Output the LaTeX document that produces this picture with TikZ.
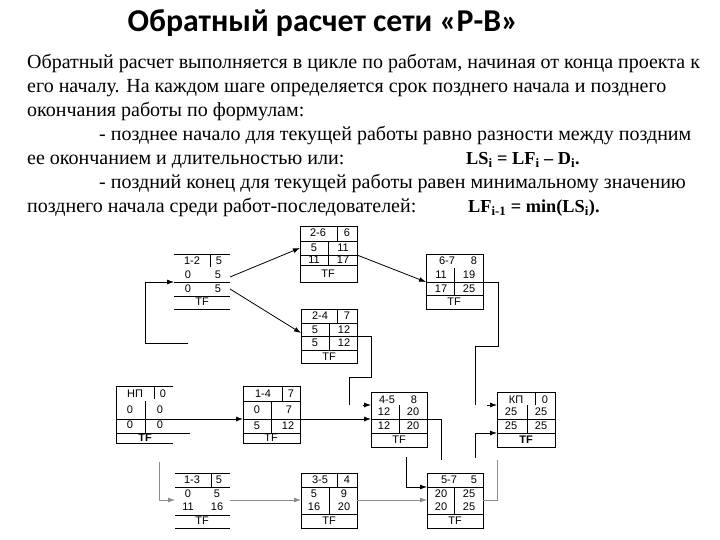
\documentclass[tikz,border=0pt]{standalone}
\usepackage{fontspec}
\setmainfont{Liberation Serif}
\newfontfamily\titlefont{Carlito}
\newfontfamily\cellfont{Liberation Sans}
\usetikzlibrary{arrows.meta,calc}
\begin{document}
\begin{tikzpicture}[x=1pt,y=-1pt,
  tbox/.style={draw, line width=0.8pt, inner sep=0pt, outer sep=0pt, anchor=north west},
  obox/.style={draw=none, inner sep=0pt, outer sep=0pt, anchor=north west},
  ct/.style={font=\cellfont\fontsize{11}{11}\selectfont, inner sep=0pt},
  ln/.style={line width=0.8pt},
  conn/.style={line width=0.8pt},
  arr/.style={-{Latex[length=7pt,width=5pt]}},
  lg/.style={draw=black!45},
  body/.style={font=\fontsize{20}{20}\selectfont, anchor=base west, inner sep=0pt},
  form/.style={font=\fontsize{18.3}{18.3}\selectfont\bfseries, anchor=base west, inner sep=0pt}
]
\useasboundingbox[fill=white] (0,0) rectangle (720,540);

% ---------- title and text ----------
\node[font=\titlefont\bfseries\fontsize{31.8}{31.8}\selectfont, anchor=base, inner sep=0pt] (title) at (323,32) {Обратный расчет сети «Р-В»};
\node[body] (t1) at (27,69) {Обратный расчет выполняется в цикле по работам, начиная от конца проекта к};
\node[body] (t2) at (27,93) {его началу. На каждом шаге определяется срок позднего начала и позднего};
\node[body] (t3) at (27,117) {окончания работы по формулам:};
\node[body] (t4) at (99,141) {- позднее начало для текущей работы равно разности между поздним};
\node[body] (t5) at (27,165) {ее окончанием и длительностью или:};
\node[form] (f1) at (466,165) {LS\textsubscript{i} = LF\textsubscript{i} – D\textsubscript{i}.};
\node[body] (t6) at (99,189) {- поздний конец для текущей работы равен минимальному значению};
\node[body] (t7) at (27,213) {позднего начала среди работ-последователей:};
\node[form] (f2) at (468,213) {LF\textsubscript{i-1} = min(LS\textsubscript{i}).};

% ---------- 1-2 ----------
\node[obox, minimum width=56pt, minimum height=55pt] (n12) at (174,254) {};
\draw[ln] (174,254)--(230,254) (174,282)--(230,282) (174,296)--(230,296) (174,309)--(230,309) (210,254)--(210,267);
\node[ct] at (192,261) {1-2}; \node[ct] at (219,261) {5};
\node[ct] at (188,275) {0};   \node[ct] at (218,275) {5};
\node[ct] at (188,289) {0};   \node[ct] at (218,289) {5};
\node[ct] at (202,302) {TF};

% ---------- 1-3 ----------
\node[obox, minimum width=55pt, minimum height=55pt] (n13) at (175,473) {};
\draw[ln] (175,473)--(230,473) (175,487)--(230,487) (175,515)--(230,515) (175,528)--(230,528) (211,473)--(211,487);
\node[ct] at (192,480) {1-3}; \node[ct] at (219,480) {5};
\node[ct] at (188,494) {0};   \node[ct] at (217,494) {5};
\node[ct] at (188,507) {11};  \node[ct] at (217,507) {16};
\node[ct] at (202,521) {TF};

% ---------- НП ----------
\node[obox, minimum width=57pt, minimum height=57pt] (nNP) at (116,386) {};
\draw[ln] (173,386)--(116,386)--(116,443)--(173,443) (116,419)--(173,419) (116,433)--(190,433)
  (154,386)--(154,399) (145,401)--(145,433);
\node[ct] at (135,394) {НП}; \node[ct] at (163,394) {0};
\node[ct] at (130,410) {0};  \node[ct] at (160,410) {0};
\node[ct] at (130,425) {0};  \node[ct] at (160,425) {0};
\node[ct, font=\cellfont\bfseries\fontsize{11}{11}\selectfont] at (145,438) {TF};

% ---------- 1-4 ----------
\node[tbox, minimum width=57pt, minimum height=57pt] (n14) at (243,386) {};
\draw[ln] (243,401)--(300,401) (243,419)--(300,419) (243,433)--(300,433) (282,386)--(282,401) (271,401)--(271,433);
\node[ct] at (263,394) {1-4}; \node[ct] at (291,394) {7};
\node[ct] at (257,410) {0};   \node[ct] at (289,410) {7};
\node[ct] at (257,426) {5};   \node[ct] at (288,426) {12};
\node[ct] at (271,438) {TF};

% ---------- 2-6 ----------
\node[tbox, minimum width=57pt, minimum height=56pt] (n26) at (300,226) {};
\draw[ln] (300,241)--(357,241) (300,255)--(357,255) (300,265)--(357,265) (337,226)--(337,241) (328,241)--(328,265);
\node[ct] at (318,233) {2-6}; \node[ct] at (347,233) {6};
\node[ct] at (314,248) {5};   \node[ct] at (343,248) {11};
\node[ct] at (314,260) {11};  \node[ct] at (343,260) {17};
\node[ct] at (328,274) {TF};

% ---------- 2-4 ----------
\node[tbox, minimum width=56pt, minimum height=54pt] (n24) at (301,309) {};
\draw[ln] (301,323)--(357,323) (301,336)--(357,336) (301,350)--(357,350) (337,309)--(337,323) (329,323)--(329,350);
\node[ct] at (320,316) {2-4}; \node[ct] at (347,316) {7};
\node[ct] at (315,330) {5};   \node[ct] at (344,330) {12};
\node[ct] at (315,343) {5};   \node[ct] at (344,343) {12};
\node[ct] at (329,357) {TF};

% ---------- 6-7 ----------
\node[tbox, minimum width=57pt, minimum height=55pt] (n67) at (426,254) {};
\draw[ln] (426,282)--(483,282) (426,295)--(483,295) (454,268)--(454,295);
\node[ct] at (447,261) {6-7}; \node[ct] at (474,261) {8};
\node[ct] at (441,275) {11};  \node[ct] at (469,275) {19};
\node[ct] at (441,289) {17};  \node[ct] at (469,289) {25};
\node[ct] at (454,302) {TF};

% ---------- 4-5 ----------
\node[tbox, minimum width=56pt, minimum height=55pt] (n45) at (371,392) {};
\draw[ln] (371,419)--(427,419) (371,433)--(427,433) (399,405)--(399,433);
\node[ct] at (387,400) {4-5}; \node[ct] at (414,400) {8};
\node[ct] at (384,412) {12};  \node[ct] at (413,412) {20};
\node[ct] at (384,426) {12};  \node[ct] at (413,426) {20};
\node[ct] at (399,440) {TF};

% ---------- КП ----------
\node[tbox, minimum width=58pt, minimum height=55pt] (nKP) at (497,392) {};
\draw[ln] (497,419)--(555,419) (497,433)--(555,433) (535,392)--(535,405) (527,405)--(527,433);
\node[ct] at (516,400) {КП}; \node[ct] at (545,400) {0};
\node[ct] at (511,412) {25}; \node[ct] at (541,412) {25};
\node[ct] at (511,426) {25}; \node[ct] at (541,426) {25};
\node[ct, font=\cellfont\bfseries\fontsize{11}{11}\selectfont] at (526,440) {TF};

% ---------- 3-5 ----------
\node[tbox, minimum width=56pt, minimum height=55pt] (n35) at (301,473) {};
\draw[ln] (301,487)--(357,487) (301,514)--(357,514) (337,473)--(337,487) (329,487)--(329,514);
\node[ct] at (320,480) {3-5}; \node[ct] at (347,480) {4};
\node[ct] at (314,494) {5};   \node[ct] at (344,494) {9};
\node[ct] at (314,507) {16};  \node[ct] at (344,507) {20};
\node[ct] at (329,521) {TF};

% ---------- 5-7 ----------
\node[tbox, minimum width=56pt, minimum height=55pt] (n57) at (427,473) {};
\draw[ln] (427,487)--(483,487) (427,514)--(483,514) (454,487)--(454,514);
\node[ct] at (449,480) {5-7}; \node[ct] at (474,480) {5};
\node[ct] at (441,494) {20};  \node[ct] at (469,494) {25};
\node[ct] at (441,507) {20};  \node[ct] at (469,507) {25};
\node[ct] at (455,521) {TF};

% ---------- free ends ----------
\coordinate (c12a) at (188,343);
\coordinate (c67e) at (475,405);
\coordinate (cKPs) at (487,405);
\coordinate (c24e) at (349,405);
\coordinate (c45s) at (363,405);
\coordinate (c45e) at (441,460);
\coordinate (c57s) at (406,457);
\coordinate (c57e) at (497,460);
\coordinate (cKPb) at (475,458);
\coordinate (c13s) at (159,462);

% ---------- connectors ----------
\draw[conn,arr] (c12a) -- (145,343) -- (145,282) -- (n12.west |- 0,282);
\draw[conn,arr] (n12.east |- 0,277) -- (n26.west |- 0,248);
\draw[conn,arr] (n12.east |- 0,289) -- (n24.west |- 0,333);
\draw[conn,arr] (n26.east |- 0,255) -- (n67.west |- 0,282);
\draw[conn] (n67.east |- 0,282) -- (498,282) -- (498,346) -- (475,346) -- (c67e);
\draw[conn,arr] (cKPs) -- (nKP.west |- 0,405);
\draw[conn,arr] (nNP.east |- 0,419) -- (n14.west |- 0,419);
\draw[conn,arr] (n14.east |- 0,419) -- (n45.west |- 0,419);
\draw[conn] (n24.east |- 0,336) -- (371,336) -- (371,377) -- (349,377) -- (c24e);
\draw[conn,arr] (c45s) -- (n45.west |- 0,405);
\draw[conn] (n45.east |- 0,419) -- (441,419) -- (c45e);
\draw[conn,arr] (c57s) -- (406,487) -- (n57.west |- 0,487);
\draw[conn,arr] (cKPb) -- (475,433) -- (nKP.west |- 0,433);
\draw[conn,lg] (n57.east |- 0,500) -- (497,500) -- (c57e);
\draw[conn,lg,arr] (c13s) -- (159,500) -- (n13.west |- 0,500);
\draw[conn,lg,arr] (n13.east |- 0,500) -- (n35.west |- 0,500);
\draw[conn,lg,arr] (n35.east |- 0,500) -- (n57.west |- 0,500);
\end{tikzpicture}
\end{document}
